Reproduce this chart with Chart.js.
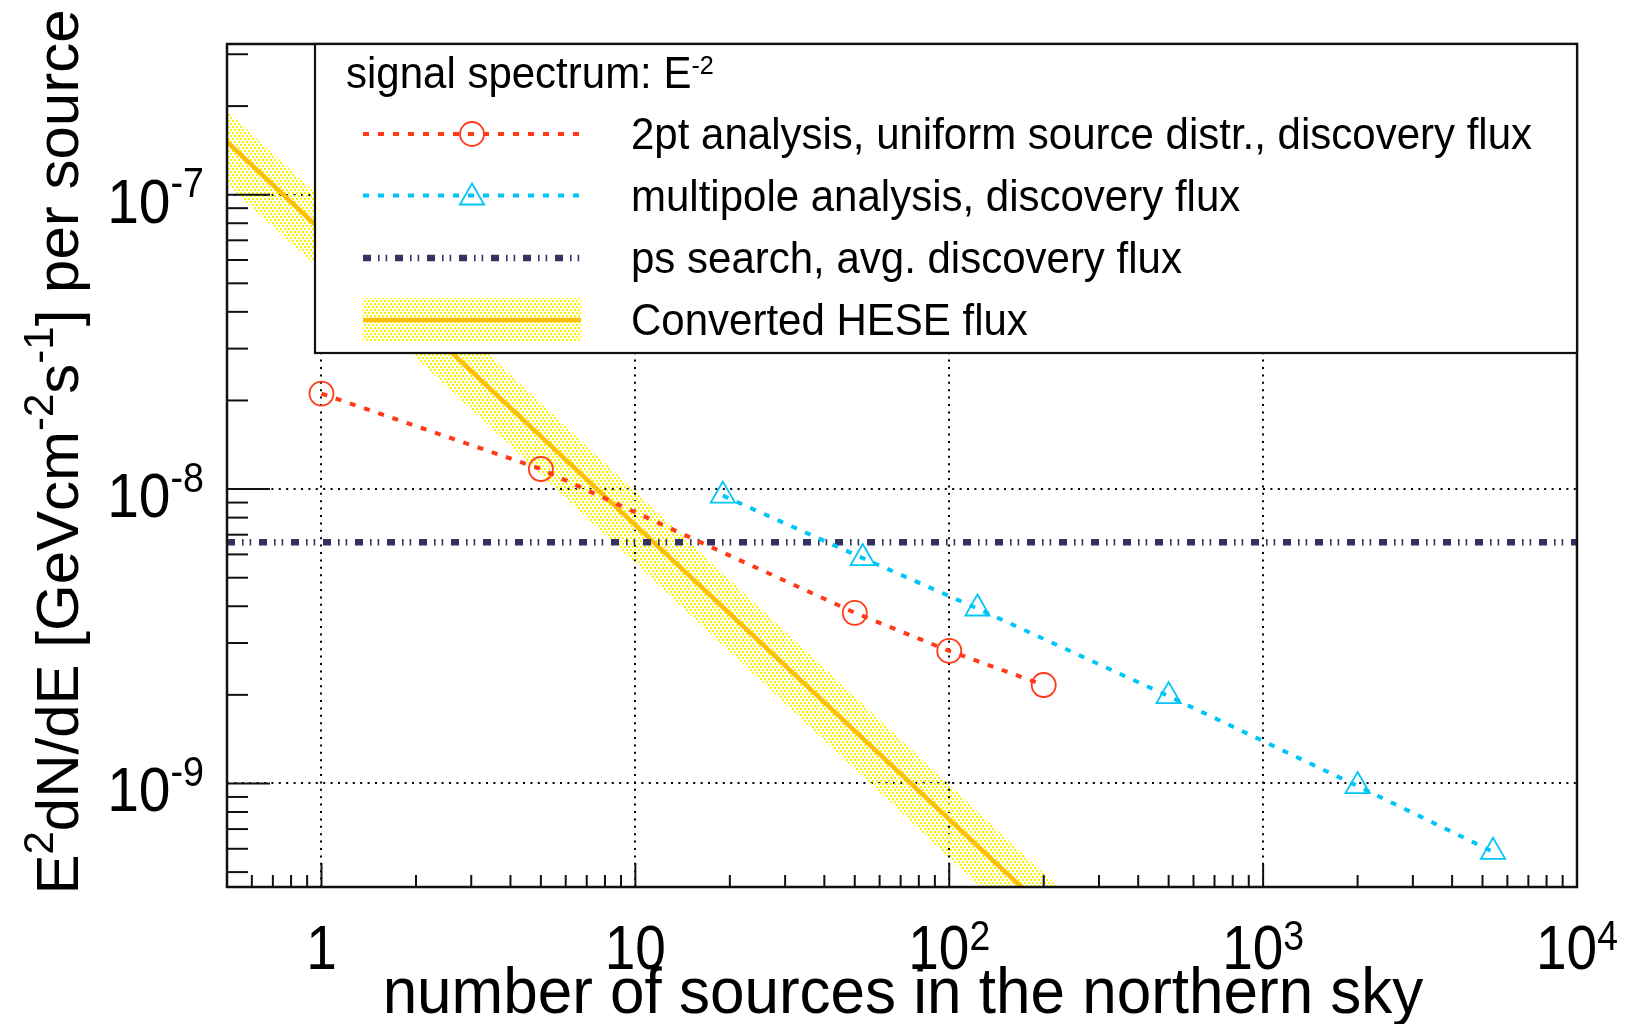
<!DOCTYPE html>
<html><head><meta charset="utf-8">
<script src="https://cdn.jsdelivr.net/npm/chart.js@4.4.1/dist/chart.umd.min.js"></script>
<style>html,body{margin:0;padding:0;background:#fff;} canvas{display:block;}</style>
</head><body>
<canvas id="c" width="1630" height="1024"></canvas>
<script>
// ---------- data ----------
const legendHeader = 'signal spectrum: E';
const legendHeaderExp = '-2';
const seriesLabels = [
  '2pt analysis, uniform source distr., discovery flux',
  'multipole analysis, discovery flux',
  'ps search, avg. discovery flux',
  'Converted HESE flux'
];

const twoPtX = [1, 5, 50, 100, 200];
const twoPtY = [2.11e-8, 1.17e-8, 3.8e-9, 2.82e-9, 2.16e-9];

const multipoleX = [19, 53, 123, 500, 2000, 5400];
const multipoleY = [9.5e-9, 5.83e-9, 3.93e-9, 1.98e-9, 9.8e-10, 5.86e-10];

const psX = [0.5, 10000];
const psY = [6.6e-9, 6.6e-9];

const heseX = [0.5, 2, 10, 50, 300];
const heseMid = [1.51e-7, 3.78e-8, 7.55e-9, 1.51e-9, 2.52e-10];
const heseHigh = [1.92e-7, 4.9e-8, 9.8e-9, 1.97e-9, 3.3e-10];
const heseLow = [1.08e-7, 2.8e-8, 5.6e-9, 1.12e-9, 1.87e-10];

const xTickValues = [1, 10, 100, 1000, 10000];
const xTickBase = ['1', '10', '10', '10', '10'];
const xTickExp = ['', '', '2', '3', '4'];
const yTickValues = [1e-9, 1e-8, 1e-7];
const yTickBase = ['10', '10', '10'];
const yTickExp = ['-9', '-8', '-7'];
const xTitle = 'number of sources in the northern sky';
const yTitleRuns = [['E', 0], ['2', 1], ['dN/dE [GeVcm', 0], ['-2', 1], ['s', 0], ['-1', 1], ['] per source', 0]];

// ---------- styles ----------
const FONT = '"Liberation Sans", Arial, Helvetica, sans-serif';
const RED = '#ff3a14';
const CYAN = '#00c6f8';
const NAVY = '#33335f';
const GOLD = '#fcbf00';
const DOT_DASH = [8, 7, 1.6, 6, 1.6, 7.8];

const canvas = document.getElementById('c');
const ctx0 = canvas.getContext('2d');
const tile = document.createElement('canvas');
tile.width = 4; tile.height = 6;
const tg = tile.getContext('2d');
tg.fillStyle = '#fbf400';
tg.fillRect(0, 0, 2, 2); tg.fillRect(2, 3, 2, 2);
const bandPattern = ctx0.createPattern(tile, 'repeat');

const pts = (xs, ys) => xs.map((x, i) => ({x: x, y: ys[i]}));

function drawRuns(ctx, runs, x, y, size, align, supScale, supRaise, sy) {
  sy = sy || 1;
  let total = 0;
  const ms = runs.map(r => {
    ctx.font = (r[1] ? size * supScale : size) + 'px ' + FONT;
    const w = ctx.measureText(r[0]).width;
    total += w;
    return w;
  });
  let cx = align === 'center' ? x - total / 2 : (align === 'right' ? x - total : x);
  ctx.save();
  ctx.translate(0, y);
  ctx.scale(1, sy);
  ctx.textAlign = 'left';
  ctx.textBaseline = 'alphabetic';
  runs.forEach((r, i) => {
    ctx.font = (r[1] ? size * supScale : size) + 'px ' + FONT;
    ctx.fillText(r[0], cx, r[1] ? -size * supRaise : 0);
    cx += ms[i];
  });
  ctx.restore();
}

function seg(ctx, x1, y1, x2, y2) {
  ctx.beginPath(); ctx.moveTo(x1, y1); ctx.lineTo(x2, y2); ctx.stroke();
}

const gridPlugin = {
  id: 'rootGrid',
  beforeDatasetsDraw(chart) {
    const {ctx, chartArea: a, scales: {x, y}} = chart;
    ctx.save();
    ctx.strokeStyle = '#000';
    ctx.lineWidth = 2;
    ctx.setLineDash([2, 5.4]);
    xTickValues.forEach(v => {
      if (v >= 10000) return;
      const px = Math.round(x.getPixelForValue(v));
      seg(ctx, px, a.bottom, px, a.top);
    });
    yTickValues.forEach(v => {
      const py = Math.round(y.getPixelForValue(v));
      seg(ctx, a.left, py, a.right, py);
    });
    ctx.restore();
  }
};

const framePlugin = {
  id: 'rootFrame',
  afterDatasetsDraw(chart) {
    const {ctx, chartArea: a, scales: {x, y}} = chart;
    ctx.save();
    ctx.setLineDash([]);
    ctx.strokeStyle = '#111';
    ctx.lineWidth = 2;
    for (let d = -1; d <= 3; d++) {
      for (let m = 1; m <= 9; m++) {
        const v = m * Math.pow(10, d);
        if (v <= 0.5 || v >= 10000) continue;
        const len = m === 1 ? 24 : 12;
        const px = x.getPixelForValue(v);
        seg(ctx, px, a.bottom, px, a.bottom - len);
      }
    }
    for (let d = -10; d <= -7; d++) {
      for (let m = 1; m <= 9; m++) {
        const v = m * Math.pow(10, d);
        if (v <= 4.45e-10 || v >= 3.25e-7) continue;
        const len = m === 1 ? 43 : 21;
        const py = y.getPixelForValue(v);
        seg(ctx, a.left, py, a.left + len, py);
      }
    }
    ctx.lineWidth = 2.5;
    ctx.strokeRect(a.left, a.top, a.right - a.left, a.bottom - a.top);
    ctx.restore();
  }
};

const overlayPlugin = {
  id: 'rootOverlay',
  afterDraw(chart) {
    const {ctx, chartArea: a, scales: {x, y}} = chart;
    ctx.save();
    // legend box
    const L = {x0: 315, y0: a.top, x1: a.right, y1: 353};
    ctx.fillStyle = '#fff';
    ctx.fillRect(L.x0, L.y0, L.x1 - L.x0, L.y1 - L.y0);
    ctx.strokeStyle = '#111';
    ctx.lineWidth = 2.2;
    ctx.strokeRect(L.x0, L.y0, L.x1 - L.x0, L.y1 - L.y0);
    ctx.fillStyle = '#000';
    drawRuns(ctx, [[legendHeader, 0], [legendHeaderExp, 1]], 346, 88, 42, 'left', 0.6, 0.32, 1.06);

    const sx0 = 363, sx1 = 581, mx = 472;
    const rows = [134, 195.5, 258, 320];
    // row 0: red
    ctx.lineWidth = 4; ctx.strokeStyle = RED; ctx.setLineDash([6, 9]);
    seg(ctx, sx0, rows[0], sx1, rows[0]);
    ctx.setLineDash([]);
    ctx.lineWidth = 1.8; ctx.fillStyle = 'rgba(0,0,0,0)';
    Chart.helpers.drawPoint(ctx, {pointStyle: 'circle', radius: 12, borderWidth: 1.8, rotation: 0}, mx, rows[0]);
    // row 1: cyan
    ctx.lineWidth = 4; ctx.strokeStyle = CYAN; ctx.setLineDash([6, 9]);
    seg(ctx, sx0, rows[1], sx1, rows[1]);
    ctx.setLineDash([]);
    ctx.lineWidth = 1.8; ctx.fillStyle = 'rgba(0,0,0,0)';
    Chart.helpers.drawPoint(ctx, {pointStyle: 'triangle', radius: 14, borderWidth: 1.8, rotation: 0}, mx, rows[1] + 2);
    // row 2: navy
    ctx.lineWidth = 6.5; ctx.strokeStyle = NAVY; ctx.setLineDash(DOT_DASH);
    seg(ctx, sx0, rows[2], sx1, rows[2]);
    ctx.setLineDash([]);
    // row 3: band + gold
    ctx.fillStyle = bandPattern;
    ctx.fillRect(sx0, 298, sx1 - sx0, 44);
    ctx.lineWidth = 4.5; ctx.strokeStyle = GOLD;
    seg(ctx, sx0, rows[3], sx1, rows[3]);

    ctx.fillStyle = '#000';
    seriesLabels.forEach((t, i) => drawRuns(ctx, [[t, 0]], 631, rows[i] + 15, 42, 'left', 0.6, 0.3, 1.06));

    // tick labels
    xTickValues.forEach((v, i) => {
      const px = x.getPixelForValue(v);
      const runs = [[xTickBase[i], 0]];
      if (xTickExp[i]) runs.push([xTickExp[i], 1]);
      drawRuns(ctx, runs, px, 969, 55, 'center', 0.68, 0.3, 1.15);
    });
    yTickValues.forEach((v, i) => {
      const py = y.getPixelForValue(v);
      drawRuns(ctx, [[yTickBase[i], 0], [yTickExp[i], 1]], 204, py + 28, 57, 'right', 0.66, 0.4, 1.12);
    });
    // titles
    drawRuns(ctx, [[xTitle, 0]], 903, 1013, 62, 'center', 0.7, 0.4, 1.06);
    ctx.translate(78, 452);
    ctx.rotate(-Math.PI / 2);
    drawRuns(ctx, yTitleRuns, 0, 0, 60, 'center', 0.7, 0.42, 1);
    ctx.restore();
  }
};

new Chart(ctx0, {
  type: 'line',
  data: {
    datasets: [
      {label: seriesLabels[1], data: pts(multipoleX, multipoleY), borderColor: CYAN, borderWidth: 4,
       borderDash: [6, 9], pointStyle: 'triangle', pointRadius: 14, pointBorderWidth: 1.8,
       pointBorderColor: CYAN, pointBackgroundColor: 'rgba(0,0,0,0)', fill: false, tension: 0, clip: 0},
      {label: seriesLabels[0], data: pts(twoPtX, twoPtY), borderColor: RED, borderWidth: 4,
       borderDash: [6, 9], pointStyle: 'circle', pointRadius: 12, pointBorderWidth: 1.8,
       pointBorderColor: RED, pointBackgroundColor: 'rgba(0,0,0,0)', fill: false, tension: 0, clip: 0},
      {label: seriesLabels[2], data: pts(psX, psY), borderColor: NAVY, borderWidth: 6.5,
       borderDash: DOT_DASH, pointRadius: 0, fill: false, tension: 0, clip: 0},
      {label: seriesLabels[3], data: pts(heseX, heseMid), borderColor: GOLD, borderWidth: 4.5,
       pointRadius: 0, fill: false, tension: 0, clip: 0},
      {label: 'HESE band upper', data: pts(heseX, heseHigh), borderColor: 'rgba(0,0,0,0)', borderWidth: 0,
       pointRadius: 0, fill: '+1', backgroundColor: bandPattern, tension: 0, clip: 0},
      {label: 'HESE band lower', data: pts(heseX, heseLow), borderColor: 'rgba(0,0,0,0)', borderWidth: 0,
       pointRadius: 0, fill: false, tension: 0, clip: 0}
    ]
  },
  options: {
    responsive: false,
    devicePixelRatio: 1,
    animation: false,
    events: [],
    layout: {padding: {left: 227, right: 53, top: 44, bottom: 137}},
    scales: {
      x: {type: 'logarithmic', min: 0.5, max: 10000, display: false},
      y: {type: 'logarithmic', min: 4.45e-10, max: 3.25e-7, display: false}
    },
    plugins: {legend: {display: false}, tooltip: {enabled: false}}
  },
  plugins: [gridPlugin, framePlugin, overlayPlugin]
});
</script>
</body></html>
